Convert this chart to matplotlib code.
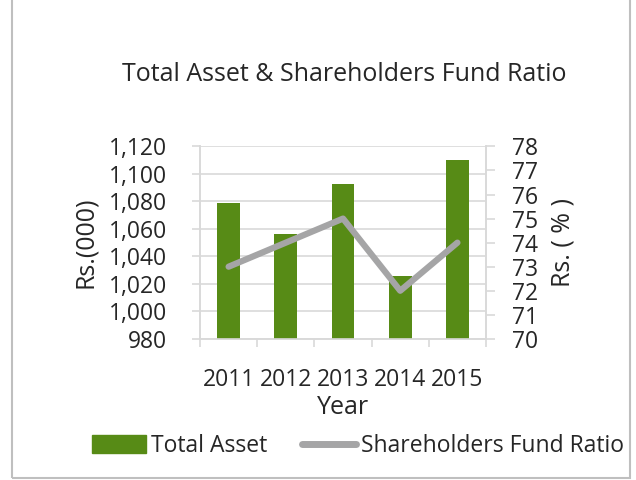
import matplotlib.pyplot as plt
import matplotlib.patches as mpatches
import numpy as np

# data
years = ['2011', '2012', '2013', '2014', '2015']
total_asset = [1079, 1056, 1093, 1026, 1110]
fund_ratio = [73, 74, 75, 72, 74]

GREEN = '#578B16'
GREY = '#A5A5A6'
GRID = '#D9D9D9'
TEXT = '#262626'
FS = 16.5

plt.rcParams['font.family'] = ['Open Sans', 'DejaVu Sans']

fig = plt.figure(figsize=(6.36, 4.8), dpi=100)
ax = fig.add_axes([0.3145, 0.294, 0.4497, 0.401])
ax2 = ax.twinx()

x = np.arange(len(years))
ax.bar(x, total_asset, width=0.4, color=GREEN, zorder=3)
ax.set_ylim(980, 1120)
ax.set_yticks(np.arange(980, 1121, 20))
ax.set_yticklabels([f'{v:,}' for v in range(980, 1121, 20)])
ax.set_xlim(-0.5, len(years) - 0.5)
ax.set_xticks(x)
ax.set_xticklabels(years)
ax.set_xticks(np.arange(-0.5, len(years)), minor=True)
ax.tick_params(axis='x', which='major', length=0, labelsize=FS, colors=TEXT, pad=21)
ax.tick_params(axis='x', which='minor', length=5.5, color=GRID, width=1.2)
ax.tick_params(axis='y', length=5.5, color=GRID, width=1.2, labelsize=FS,
               labelcolor=TEXT, pad=18)
ax.grid(axis='y', color=GRID, linewidth=1.2, zorder=0)
ax.set_axisbelow(True)

ax2.plot(x, fund_ratio, color=GREY, linewidth=4.5, solid_capstyle='round', zorder=4)
ax2.set_ylim(70, 78)
ax2.set_yticks(np.arange(70, 79, 1))
ax2.tick_params(axis='y', length=6.5, color=GRID, width=1.2, labelsize=FS,
                labelcolor=TEXT, pad=12)

for a in (ax, ax2):
    a.spines['top'].set_visible(False)
    for s in ('left', 'right', 'bottom'):
        a.spines[s].set_color(GRID)
        a.spines[s].set_linewidth(1.2)

ax.set_ylabel('Rs.(000)', fontsize=18, color=TEXT, labelpad=8)
ax2.set_ylabel('Rs. ( % )', fontsize=18, color=TEXT, labelpad=9)
ax.set_xlabel('Year', fontsize=18, color=TEXT, labelpad=2)

fig.text(0.541, 0.844, 'Total Asset & Shareholders Fund Ratio', ha='center', va='center',
         fontsize=18, color=TEXT)

# legend
handles = [mpatches.Patch(color=GREEN, label='Total Asset'),
           plt.Line2D([], [], color=GREY, linewidth=5, solid_capstyle='round',
                      label='Shareholders Fund Ratio')]
fig.legend(handles=handles, loc='center', bbox_to_anchor=(0.563, 0.071), ncol=2,
           frameon=False, fontsize=FS, handlelength=2.35, handleheight=0.78,
           handletextpad=0.22, columnspacing=1.5, labelcolor=TEXT,
           borderpad=0, borderaxespad=0)

# chart border
fig.patches.append(mpatches.Rectangle((12 / 636, 2 / 480), 618 / 636, 1.1,
                                      transform=fig.transFigure, fill=False,
                                      edgecolor='#BFBFBF', linewidth=1.5))

fig.savefig('out.png', dpi=100)
